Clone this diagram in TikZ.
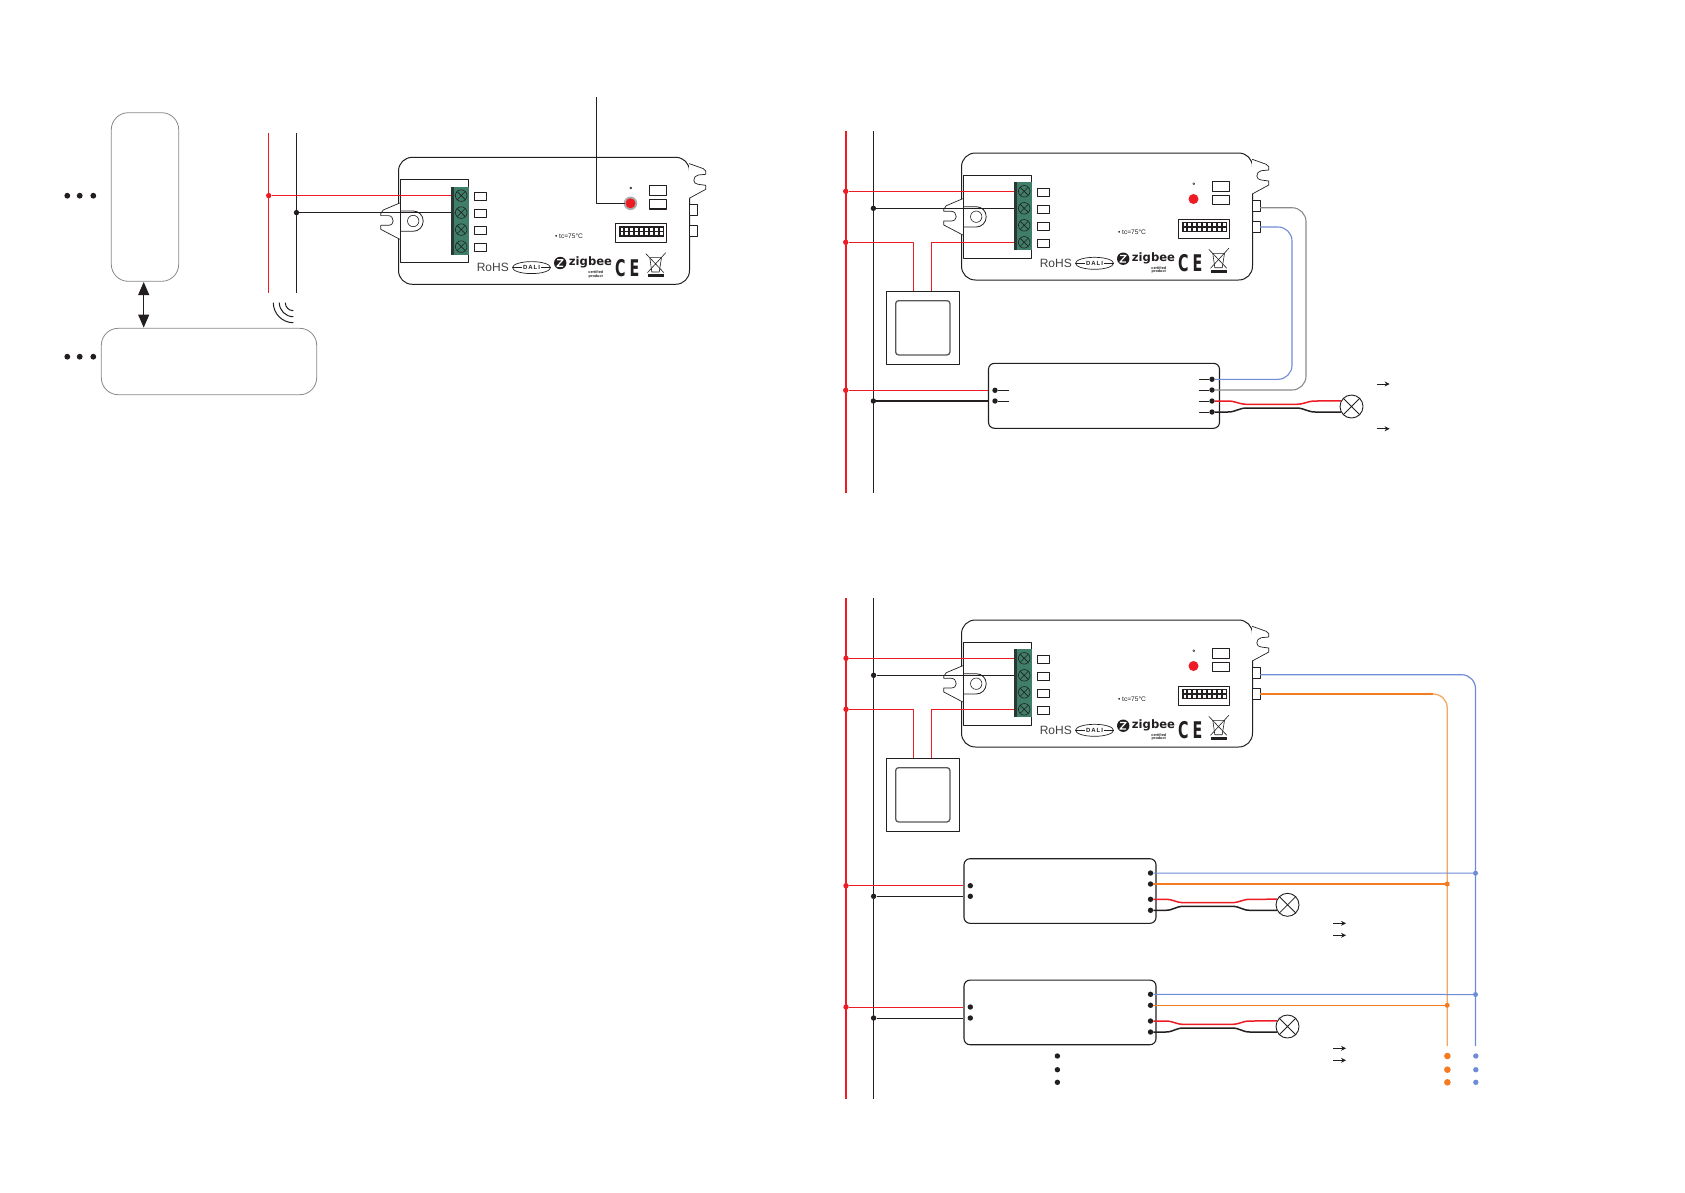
\documentclass[tikz,border=0pt]{standalone}
\usepackage{graphicx}
\usepackage{fontspec}
\setmainfont{Liberation Sans}
\newfontfamily\cefont{DejaVu Sans}
\usetikzlibrary{arrows.meta,calc}
\definecolor{wred}{HTML}{ED1C24}
\definecolor{wblk}{HTML}{231F20}
\definecolor{wblue}{HTML}{6F8DD6}
\definecolor{worange}{HTML}{F47B20}
\definecolor{worangel}{HTML}{F5A860}
\definecolor{wgray}{HTML}{8A8A8A}
\definecolor{tgreen}{HTML}{3F7F6A}
\tikzset{
  dotk/.style={circle,fill=wblk,inner sep=0pt,minimum size=5.4pt},
  dotr/.style={circle,fill=wred,inner sep=0pt,minimum size=5.4pt},
  dotb/.style={circle,fill=wblue,inner sep=0pt,minimum size=5pt},
  doto/.style={circle,fill=worange,inner sep=0pt,minimum size=5pt},
  gbox/.style={draw=wgray,line width=.8pt,rounded corners=17pt,inner sep=0pt},
  drv/.style={draw=wblk,line width=1.1pt,rounded corners=6pt,inner sep=0pt},
  lampn/.style={draw=wblk,line width=.9pt,circle,fill=white,inner sep=0pt,minimum size=23pt},
  redw/.style={wred,line width=1pt},
  blkw/.style={wblk,line width=1pt},
  smarrow/.style={wblk,line width=.7pt,-{Stealth[length=5pt,width=5pt]}},
}
\newcommand{\devicebody}[4]{%
\begin{scope}[shift={(#1,#2)},name prefix=#3-]
 \draw[wblk,line width=1pt,fill=white] (0,14) .. controls (0,6) and (6,0) .. (14,0) -- (277,0) .. controls (285,0) and (291,6) .. (291,14) -- (291,113) .. controls (291,121) and (285,127) .. (277,127) -- (14,127) .. controls (6,127) and (0,121) .. (0,113) -- cycle;
 % ears
 \draw[wblk,line width=.7pt,fill=white] (1.3,45.7) -- (-15.3,52.7) -- (-17.7,56.3) -- (-17.7,58.3) -- (-10.3,58.3) .. controls (-7,58.3) and (-5.3,61) .. (-5.3,63.7) .. controls (-5.3,66) and (-7,68) .. (-10.3,68) -- (-17.7,68) -- (-17.7,72) -- (1.3,82);
 \draw[wblk,line width=.7pt,fill=white] (290.7,6.3) -- (304.7,11.3) -- (307.3,13.7) -- (307.3,17) -- (299.7,17.7) .. controls (297,18) and (295.3,20.5) .. (295.3,23) .. controls (295.3,25) and (297,27) .. (299.7,27) -- (307.3,28) -- (307.3,32) -- (290.7,41);
 % terminal box
 \draw[wblk,line width=1pt,fill=white] (1.5,22) rectangle (70.3,105);
 % mount loop
 \draw[wblk,line width=.8pt] (1.5,53.7) -- (14.7,53.7) .. controls (20.3,53.7) and (24.7,58) .. (24.7,63.7) .. controls (24.7,69.5) and (20.3,74) .. (14.7,74) -- (1.5,74);
 \draw[wblk,line width=.6pt] (14.7,63.7) circle[radius=5.7pt];
 % terminal
 \fill[tgreen] (52.3,29.3) rectangle (70.3,97.3);
 \fill[wblk!75!tgreen] (52.3,29.3) rectangle (55.6,97.3);
 \foreach \y in {38.3,55.3,72.3,89.3}{
  \draw[wblk,line width=.6pt] (62.7,\y) circle[radius=5.8pt];
  \draw[wblk,line width=.6pt] (58.7,\y-4) -- (66.7,\y+4) (58.7,\y+4) -- (66.7,\y-4);
  \draw[wblk,line width=.9pt,fill=white] (76.3,\y-3) rectangle (87.7,\y+5.3);
 }
 \coordinate (t1) at (52.3,38.3);
 \coordinate (t2) at (52.3,55.3);
 \coordinate (t4) at (52.3,89.3);
 % LED and small rects
 #4
 \draw[wblk,line width=.5pt] (232.3,30.7) circle[radius=1pt];
 \draw[wblk,line width=1.1pt] (251.3,28.3) rectangle (268,38.3);
 \draw[wblk,line width=1.1pt] (251.3,42.3) rectangle (268,51.7);
 % dip switch
 \draw[wblk,line width=1pt] (217.3,66.3) rectangle (268,85.3);
 \fill[wblk] (220.3,68.7) rectangle (265.3,79.3);
 \foreach \i in {0,...,8}{
   \fill[white] (222+\i*4.9,70.2) rectangle (224.8+\i*4.9,73.2);
   \fill[white] (222+\i*4.9,75) rectangle (224.8+\i*4.9,78);
 }
 % connectors
 \draw[wblk,line width=1pt,fill=white] (290.7,47.3) rectangle (298.7,58.3);
 \draw[wblk,line width=1pt,fill=white] (290.7,68.3) rectangle (298.7,79.3);
 \coordinate (c1) at (298.7,54.7);
 \coordinate (c2) at (298.7,74);
 % texts
 \node[inner sep=0pt,text=wblk,font=\fontsize{6.6}{7}\selectfont] (tc) at (170.5,79) {• tc=75°C};
 \node[inner sep=0pt,text=wblk!85,font=\fontsize{12}{12}\selectfont] (rohs) at (94.3,110.3) {RoHS};
 \draw[wblk,line width=.7pt] (133,110.3) ellipse[x radius=19pt,y radius=6pt];
 \draw[wblk,line width=.5pt] (114,110.3) -- (152,110.3);
 \node[inner sep=1pt,fill=white,text=wblk,font=\bfseries\fontsize{6}{6}\selectfont] (dali) at (133,110.3) {D\,A\,L\,I};
 \fill[wblk] (161.7,105.7) circle[radius=6.2pt];
 \draw[white,line width=1.2pt] (158.5,102.5) -- (164.5,102.5) -- (158.5,109) -- (164.5,109);
 \node[inner sep=0pt,text=wblk,font=\cefont\bfseries\fontsize{11.6}{12}\selectfont] (zig) at (192,105) {zigbee};
 \node[inner sep=0pt,text=wblk,font=\bfseries\fontsize{3.8}{4}\selectfont] (cert) at (197.3,114.7) {certified};
 \node[inner sep=0pt,text=wblk,font=\bfseries\fontsize{3.8}{4}\selectfont] (prod) at (197.3,119) {product};
 \node[inner sep=0pt,text=wblk,font=\cefont\bfseries\fontsize{23}{23}\selectfont] (cec) at (221.8,110.5) {\scalebox{.62}[1]{C}};
 \node[inner sep=0pt,text=wblk,font=\cefont\bfseries\fontsize{23}{23}\selectfont] (cee) at (236,110.5) {\scalebox{.62}[1]{E}};
 % WEEE
 \draw[wblk,line width=.6pt] (247.3,96.3) -- (265.3,115.3) (267.3,95.3) -- (249,115.3);
 \draw[wblk,line width=.6pt] (251.3,100.3) -- (263,100.3) -- (260.7,114.7) -- (253.3,114.7) -- cycle;
 \fill[wblk] (249,117) rectangle (265.3,119.7);
\end{scope}}
\newcommand{\switchbox}[3]{%
\begin{scope}[shift={(#1,#2)},name prefix=#3-]
 \node[draw=wblk,line width=1pt,minimum size=73pt,inner sep=0pt,fill=white] (sw) at (36.5,36.5) {};
 \node[draw=wblk!75,line width=1.3pt,rounded corners=3pt,minimum size=54.3pt,inner sep=0pt] (swi) at (36.5,36.5) {};
 \coordinate (a) at (27,0);
 \coordinate (b) at (45.4,0);
\end{scope}}
% #1 red dot, #2 black dot, #3 lamp, #4 straight start, #5 bend length, #6 plateau length
\newcommand{\lampwires}[6]{%
 \draw[wred,line width=1.5pt] (#1) -- ++(#4,0) .. controls +(8,0) and +(-8,0) .. ++(#5,3.3) -- ++(#6,0) .. controls +(8,0) and +(-8,0) .. ++(#5,-3.3) -- (#3.152);
 \draw[wblk,line width=1.5pt] (#2) -- ++(#4,0) .. controls +(8,0) and +(-8,0) .. ++(#5,-4) -- ++(#6,0) .. controls +(8,0) and +(-8,0) .. ++(#5,4) -- (#3.208);
 \draw[wblk,line width=.8pt] (#3.45) -- (#3.225) (#3.135) -- (#3.315);
}
\begin{document}
\begin{tikzpicture}[x=1pt,y=-1pt,line join=round]
\useasboundingbox (0,0) rectangle (1685,1192);
\fill[white] (0,0) rectangle (1685,1192);

% ---------- left diagram ----------
\node[gbox,minimum width=67.4pt,minimum height=168.6pt] (box1) at (145,197) {};
\node[gbox,minimum width=215.4pt,minimum height=66.4pt] (box2) at (209,361.5) {};
\foreach \n/\x in {a/67.3,b/79.7,c/93.3}{
 \node[dotk,minimum size=5.8pt] (d1\n) at (\x,195.7) {};
 \node[dotk,minimum size=5.8pt] (d2\n) at (\x,356.7) {};
}
\coordinate (arrT) at (143.7,282);
\coordinate (arrB) at (143.7,327.6);
\draw[wblk,line width=1pt,{Triangle[length=13pt,width=11pt]}-{Triangle[length=13pt,width=11pt]}] (arrT) -- (arrB);
\draw[wblk,line width=1pt] (273.3,302.7) .. controls (273.3,313.7) and (282.3,322.7) .. (293.3,322.7);
\draw[wblk,line width=1pt] (279.3,302.7) .. controls (279.3,310.4) and (285.6,316.7) .. (293.3,316.7);
\draw[wblk,line width=1pt] (285.3,302.7) .. controls (285.3,307.1) and (288.9,310.7) .. (293.3,310.7);
\coordinate (L1a) at (268.3,133);
\coordinate (L1b) at (268.3,292.7);
\coordinate (N1a) at (296.3,133);
\coordinate (N1b) at (296.3,292.7);
\draw[redw] (L1a) -- (L1b);
\draw[blkw] (N1a) -- (N1b);

\devicebody{398.5}{157.3}{d1}{%
 \fill[wgray!70] (232,46) circle[radius=6.8pt];
 \fill[wred] (232,46) circle[radius=5pt];
 \coordinate (led) at (226,46);
}
\node[dotr] (r1) at (268.7,195.6) {};
\node[dotk] (k1) at (296.5,212.6) {};
\draw[redw] (r1) -- (d1-t1);
\draw[blkw] (k1) -- (d1-t2);
\coordinate (antop) at (596.7,97);
\draw[blkw] (antop) |- (d1-led);

% ---------- top right diagram ----------
\coordinate (L2a) at (845.7,131);
\coordinate (L2b) at (845.7,492.7);
\coordinate (N2a) at (873.4,131);
\coordinate (N2b) at (873.4,492.7);
\draw[wred,line width=1.8pt] (L2a) -- (L2b);
\draw[blkw] (N2a) -- (N2b);

\devicebody{961.5}{153}{d2}{\fill[wred] (232,46) circle[radius=5pt];}
\switchbox{886.3}{291.3}{s2}
\node[dotr] (r2a) at (845.7,191.3) {};
\node[dotk] (k2a) at (873.4,208.3) {};
\node[dotr] (r2b) at (845.7,242.3) {};
\draw[redw] (r2a) -- (d2-t1);
\draw[blkw] (k2a) -- (d2-t2);
\draw[redw] (r2b) -| (s2-a);
\draw[wred,line width=1.5pt] (d2-t4) -| (s2-b);

\node[drv,minimum width=231pt,minimum height=65pt] (D2) at (1104,395.8) {};
\foreach \n/\y in {a/390.3,b/401}{
 \node[dotk] (D2l\n) at (995,\y) {};
 \draw[wblk,line width=.8pt] (D2l\n) -- ++(13.6,0);
}
\foreach \n/\y in {a/379.3,b/390,c/401,d/412}{
 \node[dotk] (D2r\n) at (1212,\y) {};
 \draw[wblk,line width=.8pt] (D2r\n) -- ++(-13.2,0);
}
\node[dotr] (r2c) at (845.7,390.3) {};
\node[dotk] (k2c) at (873.4,401) {};
\draw[wred,line width=.9pt] (r2c) -- (D2.west |- r2c);
\draw[wblk,line width=1.6pt] (k2c) -- (D2.west |- k2c);
\draw[wgray,line width=1.1pt,rounded corners=14pt] (d2-c1) -- (1306,207.7) -- (1306,390) -- (D2rb);
\draw[wblue,line width=1.1pt,rounded corners=14pt] (d2-c2) -- (1292,227) -- (1292,379.3) -- (D2ra);
\node[lampn] (lamp2) at (1351.5,406.5) {};
\lampwires{D2rc}{D2rd}{lamp2}{15.8}{19}{49.5}
\coordinate (a21) at (1377.3,384);
\coordinate (a21e) at (1389.6,384);
\coordinate (a22) at (1377.3,428.7);
\coordinate (a22e) at (1389.6,428.7);
\draw[smarrow] (a21) -- (a21e);
\draw[smarrow] (a22) -- (a22e);

% ---------- bottom right diagram ----------
\coordinate (L3a) at (846,598.3);
\coordinate (L3b) at (846,1099.3);
\coordinate (N3a) at (873.6,598.3);
\coordinate (N3b) at (873.6,1099.3);
\draw[wred,line width=1.8pt] (L3a) -- (L3b);
\draw[blkw] (N3a) -- (N3b);

\devicebody{961.5}{620}{d3}{\fill[wred] (232,46) circle[radius=5pt];}
\switchbox{886.3}{758.3}{s3}
\node[dotr] (r3a) at (846,658.3) {};
\node[dotk] (k3a) at (873.6,675.3) {};
\node[dotr] (r3b) at (846,709.3) {};
\draw[redw] (r3a) -- (d3-t1);
\draw[blkw] (k3a) -- (d3-t2);
\draw[redw] (r3b) -| (s3-a);
\draw[wred,line width=1.5pt] (d3-t4) -| (s3-b);

\coordinate (BLe) at (1475.5,1046);
\coordinate (OGe) at (1447.2,1046);
\draw[worangel,line width=1.3pt] (1433,694) .. controls (1441,694) and (1447.2,700) .. (1447.2,708) -- (OGe);
\draw[worange,line width=1.1pt] (d3-c2) -- (1433,694);
\draw[wblue,line width=1.2pt] (d3-c1) -- (1461.5,674.7) .. controls (1469.5,674.7) and (1475.5,681) .. (1475.5,689) -- (BLe);

% driver A
\node[drv,minimum width=192pt,minimum height=64.6pt] (DA) at (1060,891) {};
\node[dotk] (DAla) at (970.3,885.7) {};
\node[dotk] (DAlb) at (970.3,896.3) {};
\node[dotk] (DAra) at (1150.5,873) {};
\node[dotk] (DArb) at (1150.5,884) {};
\node[dotk] (DArc) at (1150.5,899.3) {};
\node[dotk] (DArd) at (1150.5,910.3) {};
\node[dotr] (r3c) at (846,885.7) {};
\node[dotk] (k3c) at (873.6,896.3) {};
\draw[redw] (r3c) -- (DA.west |- r3c);
\draw[blkw] (k3c) -- (DA.west |- k3c);
\node[dotb] (bA) at (1475.5,873.2) {};
\node[doto] (oA) at (1447.2,884) {};
\draw[wblue,line width=1pt] (DAra) -- (bA);
\draw[worange,line width=1.1pt] (DArb) -- (oA);
\node[lampn] (lampA) at (1287.5,904.8) {};
\lampwires{DArc}{DArd}{lampA}{15}{18}{48.5}
\coordinate (aA1) at (1333.3,923.3);
\coordinate (aA1e) at (1346,923.3);
\coordinate (aA2) at (1333.3,935.3);
\coordinate (aA2e) at (1346,935.3);
\draw[smarrow] (aA1) -- (aA1e);
\draw[smarrow] (aA2) -- (aA2e);

% driver B
\node[drv,minimum width=192pt,minimum height=64.6pt] (DB) at (1060,1012.4) {};
\node[dotk] (DBla) at (970.3,1007) {};
\node[dotk] (DBlb) at (970.3,1018) {};
\node[dotk] (DBra) at (1150.5,994.3) {};
\node[dotk] (DBrb) at (1150.5,1005.3) {};
\node[dotk] (DBrc) at (1150.5,1021) {};
\node[dotk] (DBrd) at (1150.5,1032) {};
\node[dotr] (r3d) at (846,1007) {};
\node[dotk] (k3d) at (873.6,1018) {};
\draw[redw] (r3d) -- (DB.west |- r3d);
\draw[blkw] (k3d) -- (DB.west |- k3d);
\node[dotb] (bB) at (1475.5,994.5) {};
\node[doto] (oB) at (1447.2,1005.3) {};
\draw[wblue,line width=1pt] (DBra) -- (bB);
\draw[worange,line width=1.1pt] (DBrb) -- (oB);
\node[lampn] (lampB) at (1287.5,1026.5) {};
\lampwires{DBrc}{DBrd}{lampB}{15}{18}{48.5}
\coordinate (aB1) at (1333.3,1048.3);
\coordinate (aB1e) at (1346,1048.3);
\coordinate (aB2) at (1333.3,1060.3);
\coordinate (aB2e) at (1346,1060.3);
\draw[smarrow] (aB1) -- (aB1e);
\draw[smarrow] (aB2) -- (aB2e);

% continuation dots
\foreach \n/\y in {a/1056,b/1069.7,c/1082.3}{
 \node[dotk,minimum size=5.4pt] (e\n) at (1057.4,\y) {};
 \node[doto,minimum size=6.6pt] (f\n) at (1447.4,\y) {};
 \node[dotb,minimum size=5.4pt] (g\n) at (1475.8,\y) {};
}
\end{tikzpicture}
\end{document}
